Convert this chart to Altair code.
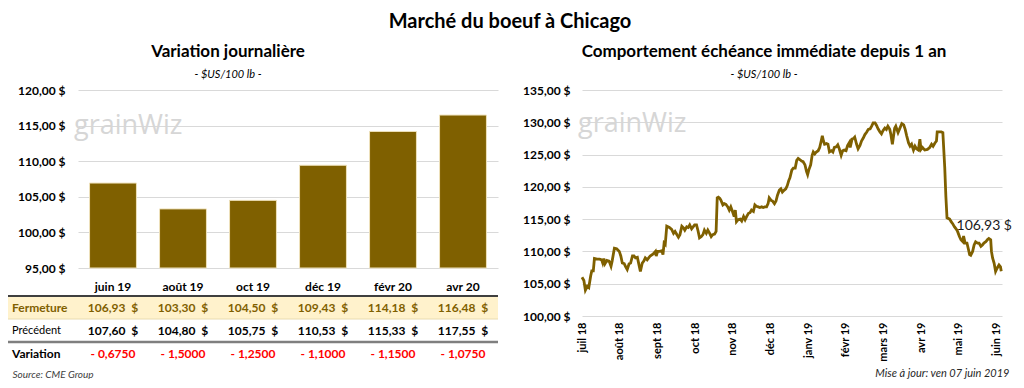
import altair as alt
import pandas as pd

FONT = "Lato"
GOLD = "#7F6000"
GRID = "#D9D9D9"
NB = "\u00a0"

# ---------------- data: left panel ----------------
echeances = ["juin 19", "août 19", "oct 19", "déc 19", "févr 20", "avr 20"]
fermeture = [106.93, 103.30, 104.50, 109.43, 114.18, 116.48]
precedent = [107.60, 104.80, 105.75, 110.53, 115.33, 117.55]
variation = [-0.6750, -1.5000, -1.2500, -1.1000, -1.1500, -1.0750]
lignes = ["Fermeture", "Précédent", "Variation"]
y_ticks_gauche = [95, 100, 105, 110, 115, 120]

# ---------------- data: right panel ----------------
mois = ["juil 18", "août 18", "sept 18", "oct 18", "nov 18", "déc 18",
        "janv 19", "févr 19", "mars 19", "avr 19", "mai 19", "juin 19"]
y_ticks_droite = [100, 105, 110, 115, 120, 125, 130, 135]
position_mois = [
    0.00, 0.05, 0.09, 0.14, 0.18, 0.23, 0.26, 0.30, 0.33, 0.40, 0.47, 0.52, 0.55, 0.58, 0.61, 0.66,
    0.72, 0.77, 0.80, 0.86, 0.92, 0.99, 1.03, 1.07, 1.12, 1.16, 1.20, 1.25, 1.29, 1.34, 1.38, 1.42,
    1.47, 1.51, 1.55, 1.60, 1.64, 1.68, 1.73, 1.77, 1.81, 1.89, 1.95, 1.97, 2.01, 2.06, 2.12, 2.15,
    2.18, 2.21, 2.25, 2.32, 2.38, 2.43, 2.47, 2.51, 2.56, 2.60, 2.65, 2.70, 2.73, 2.78, 2.82, 2.86,
    2.91, 2.95, 2.99, 3.04, 3.08, 3.12, 3.17, 3.21, 3.25, 3.30, 3.34, 3.39, 3.43, 3.47, 3.52, 3.56,
    3.59, 3.62, 3.66, 3.69, 3.74, 3.78, 3.82, 3.87, 3.91, 3.95, 4.00, 4.04, 4.07, 4.10, 4.14, 4.20,
    4.24, 4.29, 4.33, 4.37, 4.42, 4.46, 4.50, 4.55, 4.59, 4.63, 4.68, 4.72, 4.77, 4.81, 4.85, 4.90,
    4.94, 4.97, 5.02, 5.06, 5.11, 5.15, 5.19, 5.24, 5.28, 5.32, 5.37, 5.41, 5.45, 5.49, 5.52, 5.57,
    5.61, 5.66, 5.70, 5.74, 5.79, 5.83, 5.87, 5.92, 5.96, 5.99, 6.02, 6.07, 6.11, 6.14, 6.18, 6.22,
    6.27, 6.31, 6.35, 6.38, 6.41, 6.44, 6.49, 6.53, 6.57, 6.62, 6.66, 6.70, 6.75, 6.79, 6.83, 6.88,
    6.92, 6.96, 7.01, 7.05, 7.10, 7.12, 7.17, 7.21, 7.24, 7.29, 7.33, 7.38, 7.42, 7.47, 7.51, 7.56,
    7.60, 7.65, 7.69, 7.73, 7.78, 7.82, 7.86, 7.91, 7.95, 7.99, 8.04, 8.08, 8.12, 8.17, 8.20, 8.24,
    8.30, 8.33, 8.39, 8.44, 8.49, 8.54, 8.58, 8.62, 8.67, 8.71, 8.75, 8.80, 8.84, 8.88, 8.93, 8.97,
    9.00, 9.04, 9.10, 9.17, 9.23, 9.28, 9.32, 9.37, 9.41, 9.43, 9.50, 9.54, 9.58, 9.63, 9.66, 9.69,
    9.76, 9.80, 9.84, 9.89, 9.93, 9.97, 10.02, 10.06, 10.11, 10.13, 10.17, 10.22, 10.26, 10.29, 10.32, 10.37,
    10.41, 10.45, 10.50, 10.54, 10.59, 10.63, 10.67, 10.72, 10.76, 10.80, 10.85, 10.87, 10.90, 10.94, 10.98, 11.02,
    11.07, 11.11, 11.13,
]
prix = [
    106.0, 105.5, 104.0, 104.6, 104.4, 106.2, 107.0, 107.0, 108.9, 108.8, 108.8, 108.7, 108.2, 108.9, 108.1, 108.6,
    108.5, 107.7, 108.5, 110.5, 110.4, 110.0, 109.3, 108.2, 108.1, 107.6, 107.2, 108.1, 108.2, 109.3, 109.3, 109.0,
    109.1, 108.0, 106.9, 108.2, 108.5, 109.0, 108.7, 109.0, 109.3, 109.6, 110.0, 109.3, 110.0, 110.0, 110.1, 109.5,
    111.3, 111.1, 113.9, 113.7, 113.4, 112.8, 113.1, 112.7, 112.2, 112.6, 113.9, 113.6, 113.3, 113.8, 113.7, 114.1,
    113.5, 113.8, 114.1, 114.1, 113.2, 112.1, 112.3, 112.6, 113.3, 112.8, 113.3, 112.8, 112.3, 112.6, 112.7, 113.1,
    118.3, 118.4, 118.2, 117.9, 117.2, 117.4, 117.3, 116.9, 116.4, 116.9, 116.1, 115.4, 116.4, 114.6, 114.9, 115.0,
    114.7, 115.4, 114.9, 115.4, 115.9, 116.0, 116.4, 116.2, 117.2, 117.0, 116.9, 116.8, 116.9, 116.8, 116.9, 116.9,
    117.4, 118.3, 117.9, 117.8, 117.4, 117.8, 118.7, 119.5, 119.7, 119.2, 119.5, 119.7, 120.2, 121.0, 121.4, 122.6,
    122.9, 122.9, 124.1, 124.4, 124.2, 124.0, 123.9, 123.4, 122.4, 121.9, 122.6, 123.4, 124.9, 125.4, 125.1, 125.4,
    125.6, 126.1, 127.1, 127.9, 127.1, 126.6, 126.7, 126.6, 125.4, 125.6, 125.4, 126.1, 126.2, 126.5, 125.9, 124.9,
    125.6, 125.7, 125.6, 126.4, 126.9, 126.1, 127.4, 127.5, 127.7, 126.6, 125.9, 126.4, 127.1, 127.6, 128.1, 128.5,
    128.9, 129.0, 129.4, 129.9, 129.9, 129.5, 129.0, 128.5, 128.2, 128.7, 129.1, 128.9, 129.4, 128.9, 128.1, 126.6,
    129.1, 129.4, 128.4, 129.1, 129.8, 129.6, 128.9, 127.9, 126.8, 126.3, 126.6, 125.7, 126.3, 125.9, 125.7, 127.4,
    125.8, 126.1, 125.7, 125.8, 126.1, 126.6, 126.3, 126.8, 127.1, 128.5, 128.5, 128.5, 128.4, 123.0, 118.5, 115.2,
    115.0, 114.6, 114.3, 113.8, 113.5, 113.1, 112.3, 111.8, 111.5, 112.4, 111.3, 111.3, 110.3, 109.5, 109.4, 110.0,
    111.0, 111.5, 111.3, 111.3, 110.8, 111.0, 111.3, 111.5, 111.8, 112.0, 111.8, 110.0, 109.0, 108.2, 106.9, 107.4,
    107.9, 107.6, 106.93,
]


def fr(v, d=2):
    return f"{v:.{d}f}".replace(".", ",")


y_label_expr = "replace(format(datum.value, '.2f'), '.', ',') + ' $'"
logo_df = pd.DataFrame({"logo": ["grainWiz"]})

# ---------------- left: bar chart ----------------
STEP = 70
bars_df = pd.DataFrame({"echeance": echeances, "fermeture": fermeture})

logo_gauche = alt.Chart(logo_df).mark_text(
    align="left", baseline="middle", font="Open Sans", fontSize=27, color="#D6D6D6"
).encode(x=alt.value(-4), y=alt.value(36), text="logo:N")

barres = alt.Chart(bars_df).mark_bar(color=GOLD, stroke="#EFE2BC", strokeWidth=1).encode(
    x=alt.X("echeance:N", sort=echeances, title=None,
            scale=alt.Scale(paddingInner=0.33, paddingOuter=0.165),
            axis=alt.Axis(labelAngle=0, labelFont=FONT, labelFontSize=12, labelFontWeight="bold",
                          labelColor="black", ticks=False, domain=False, labelPadding=13, grid=False)),
    y=alt.Y("fermeture:Q", title=None,
            scale=alt.Scale(domain=[95, 120], nice=False, zero=False),
            axis=alt.Axis(values=y_ticks_gauche, labelExpr=y_label_expr, labelFont=FONT, labelFontSize=12,
                          labelFontWeight="bold", labelColor="black", ticks=False, domain=False,
                          labelPadding=13, gridColor=GRID, minExtent=STEP)),
    y2=alt.datum(95),
)

gauche_haut = alt.layer(logo_gauche, barres).properties(
    width=6 * STEP, height=178,
    title=alt.TitleParams("Variation journalière", subtitle="- $US/100 lb -", font=FONT, fontSize=17,
                          fontWeight="bold", color="black", subtitleFont=FONT, subtitleFontSize=11,
                          subtitleFontStyle="italic", subtitleColor="black", subtitlePadding=8,
                          anchor="middle", frame="group", dx=-60, offset=3),
)

# ---------------- left: table ----------------
cells = []
for i, e in enumerate(echeances):
    cells.append({"col": e, "ligne": "Fermeture", "txt": fr(fermeture[i]) + NB + NB + "$", "coul": GOLD})
    cells.append({"col": e, "ligne": "Précédent", "txt": fr(precedent[i]) + NB + NB + "$", "coul": "black"})
    cells.append({"col": e, "ligne": "Variation", "txt": "- " + fr(abs(variation[i]), 4), "coul": "#FF0000"})
cells_df = pd.DataFrame(cells)

# the row-label column sits just left of the first maturity column
labels_df = pd.DataFrame({"col": [echeances[0]] * 3, "ligne": lignes,
                          "coul": [GOLD, "black", "black"], "poids": ["bold", "normal", "bold"]})
fond_df = pd.DataFrame({"col": echeances, "ligne": ["Fermeture"] * len(echeances)})
traits_df = pd.DataFrame([{"col": c, "ligne": l} for l in lignes for c in echeances])

x_scale_tab = alt.Scale(domain=echeances, paddingInner=0, paddingOuter=0)
axe_tab = alt.Axis(labels=False, ticks=False, domain=False, grid=False, title="Source: CME Group",
                   titleAnchor="start", titleFont=FONT, titleFontSize=10, titleFontStyle="italic",
                   titleFontWeight="normal", titleColor="#404040", titlePadding=4, titleX=-STEP + 4)
x_tab = alt.X("col:N", sort=echeances, scale=x_scale_tab, axis=axe_tab)
x_tab_debut = alt.X("col:N", sort=echeances, scale=x_scale_tab, bandPosition=0, axis=axe_tab)
y_scale_tab = alt.Scale(domain=lignes, paddingInner=0, paddingOuter=0)
y_tab = alt.Y("ligne:N", sort=lignes, scale=y_scale_tab, axis=None, title=None)
y_tab_haut = alt.Y("ligne:N", sort=lignes, scale=y_scale_tab, axis=None, title=None, bandPosition=0)

fond = alt.Chart(fond_df).mark_rect(color="#FFF2CC").encode(x=x_tab, y=y_tab)
fond_label = alt.Chart(fond_df.head(1)).mark_rect(color="#FFF2CC", xOffset=-STEP).encode(x=x_tab, y=y_tab)


def trait(ligne, couleur, epaisseur):
    base = alt.Chart(traits_df).transform_filter(f"datum.ligne == '{ligne}'")
    cols = base.mark_tick(orient="horizontal", size=STEP, thickness=epaisseur, color=couleur,
                          opacity=1).encode(x=x_tab, y=y_tab_haut)
    lab = base.transform_filter(f"datum.col == '{echeances[0]}'").mark_tick(
        orient="horizontal", size=STEP, thickness=epaisseur, color=couleur, opacity=1,
        xOffset=-STEP).encode(x=x_tab, y=y_tab_haut)
    return [cols, lab]


valeurs = alt.Chart(cells_df).mark_text(font=FONT, fontSize=12, fontWeight="bold").encode(
    x=x_tab, y=y_tab, text="txt:N", color=alt.Color("coul:N", scale=None))
lab_gras = alt.Chart(labels_df).transform_filter("datum.poids == 'bold'").mark_text(
    font=FONT, fontSize=12, fontWeight="bold", align="left", dx=-STEP + 4).encode(
    x=x_tab_debut, y=y_tab, text="ligne:N", color=alt.Color("coul:N", scale=None))
lab_normal = alt.Chart(labels_df).transform_filter("datum.poids == 'normal'").mark_text(
    font=FONT, fontSize=11, fontWeight="normal", align="left", dx=-STEP + 4).encode(
    x=x_tab_debut, y=y_tab, text="ligne:N", color=alt.Color("coul:N", scale=None))

tableau = alt.layer(
    fond, fond_label,
    *trait("Précédent", "#EADBB0", 1),
    *trait("Fermeture", "#3F3F3F", 2),
    *trait("Variation", "#7F7F7F", 2.5),
    valeurs, lab_gras, lab_normal,
).properties(width=6 * STEP, height=69)

gauche = alt.vconcat(gauche_haut, tableau, spacing=3)

# ---------------- right: line chart ----------------
line_df = pd.DataFrame({"position": position_mois, "prix": prix})
dernier_df = line_df.tail(1).assign(txt=lambda d: d["prix"].map(lambda v: fr(v) + " $"))
x_label_expr = "[" + ",".join(f"'{m}'" for m in mois) + "][datum.value]"
PW = 420

x_line = alt.X("position:Q", title="Mise à jour: ven 07 juin 2019",
               scale=alt.Scale(domain=[0, 11.15], nice=False, zero=False),
               axis=alt.Axis(values=list(range(len(mois))), labelExpr=x_label_expr, labelAngle=270,
                             labelAlign="right", labelBaseline="middle", labelFont=FONT, labelFontSize=11,
                             labelFontWeight="bold", labelColor="black", labelPadding=6, ticks=False,
                             domain=False, grid=False, titleFont=FONT, titleFontSize=11,
                             titleFontStyle="italic", titleFontWeight="normal", titleColor="#262626",
                             titleAnchor="end", titleAlign="right", titleX=PW + 7, titlePadding=6))
y_line = alt.Y("prix:Q", title=None, scale=alt.Scale(domain=[100, 135], nice=False, zero=False),
               axis=alt.Axis(values=y_ticks_droite, labelExpr=y_label_expr, labelFont=FONT, labelFontSize=12,
                             labelFontWeight="bold", labelColor="black", ticks=False, domain=False,
                             labelPadding=12, gridColor=GRID, minExtent=62))

logo_droite = alt.Chart(logo_df).mark_text(
    align="left", baseline="middle", font="Open Sans", fontSize=27, color="#D6D6D6"
).encode(x=alt.value(-4), y=alt.value(34), text="logo:N")
courbe = alt.Chart(line_df).mark_line(color=GOLD, strokeWidth=2.8).encode(x=x_line, y=y_line)
etiquette = alt.Chart(dernier_df).mark_text(font=FONT, fontSize=14, color="#1A1A1A", dx=-17, dy=-45).encode(
    x=x_line, y=y_line, text="txt:N")

droite = alt.layer(logo_droite, courbe, etiquette).properties(
    width=PW, height=226,
    title=alt.TitleParams("Comportement échéance immédiate depuis 1 an", subtitle="- $US/100 lb -", font=FONT,
                          fontSize=17, fontWeight="bold", color="black", subtitleFont=FONT, subtitleFontSize=11,
                          subtitleFontStyle="italic", subtitleColor="black", subtitlePadding=8,
                          anchor="middle", frame="group", dx=-28, offset=3),
)

chart = alt.hconcat(gauche, droite, spacing=22).properties(
    title=alt.TitleParams("Marché du boeuf à Chicago", font=FONT, fontSize=20, fontWeight="bold",
                          color="black", anchor="middle", offset=11),
    padding={"top": 4, "left": 0, "right": 0, "bottom": 0},
    background="white",
).configure_view(stroke=None)

chart.save("out.html", embed_options={"renderer": "svg", "actions": False})
